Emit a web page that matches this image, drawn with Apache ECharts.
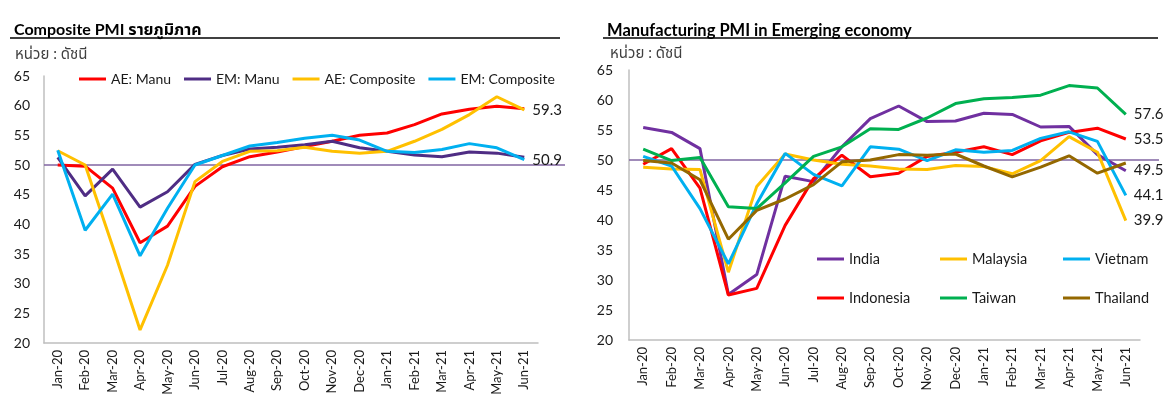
<!DOCTYPE html>
<html>
<head>
<meta charset="utf-8">
<script src="https://cdn.jsdelivr.net/npm/echarts@6/dist/echarts.min.js"></script>
<style>
  html, body { margin: 0; padding: 0; background: #fff; }
  #main { width: 1169px; height: 405px; }
</style>
</head>
<body>
<div id="main"></div>
<script>
// แกน X (ทั้งสองกราฟ)
var months = ['Jan-20','Feb-20','Mar-20','Apr-20','May-20','Jun-20','Jul-20','Aug-20','Sep-20',
              'Oct-20','Nov-20','Dec-20','Jan-21','Feb-21','Mar-21','Apr-21','May-21','Jun-21'];
var yTicks = [20, 65, 5]; // min, max, interval

// Composite PMI รายภูมิภาค
var aeManu = [50.0, 49.8, 46.1, 36.9, 39.7, 46.4, 49.7, 51.4, 52.2, 53.1, 54.0, 55.0, 55.4, 56.8, 58.6, 59.4, 59.9, 59.5];
var emManu = [51.3, 44.8, 49.3, 42.9, 45.5, 50.1, 51.6, 52.7, 53.0, 53.4, 54.0, 52.9, 52.3, 51.7, 51.4, 52.2, 52.0, 51.3];
var aeComp = [52.4, 50.0, 36.3, 22.2, 33.1, 47.2, 50.6, 52.3, 52.4, 53.0, 52.3, 52.0, 52.3, 54.0, 56.0, 58.5, 61.5, 59.3];
var emComp = [52.5, 39.0, 45.1, 34.7, 42.7, 50.0, 51.6, 53.2, 53.8, 54.5, 55.0, 54.2, 52.3, 52.1, 52.6, 53.6, 52.9, 50.9];

// Manufacturing PMI in Emerging economy
var india     = [55.4, 54.6, 51.9, 27.6, 30.9, 47.3, 46.4, 52.2, 56.9, 59.0, 56.4, 56.5, 57.8, 57.6, 55.5, 55.6, 50.9, 48.2];
var indonesia = [49.3, 51.9, 45.3, 27.5, 28.6, 39.1, 46.9, 50.8, 47.2, 47.8, 50.6, 51.3, 52.2, 50.9, 53.2, 54.6, 55.3, 53.5];
var malaysia  = [48.8, 48.5, 48.4, 31.3, 45.6, 51.0, 50.0, 49.3, 49.0, 48.5, 48.4, 49.1, 48.9, 47.7, 49.9, 53.9, 51.3, 39.9];
var vietnam   = [50.6, 49.0, 41.9, 32.7, 42.7, 51.1, 47.6, 45.7, 52.2, 51.8, 49.9, 51.7, 51.3, 51.6, 53.6, 54.7, 53.1, 44.1];
var taiwan    = [51.8, 49.9, 50.4, 42.2, 41.9, 46.2, 50.6, 52.2, 55.2, 55.1, 57.0, 59.4, 60.2, 60.4, 60.8, 62.4, 62.0, 57.6];
var thailand  = [49.9, 49.5, 46.7, 36.8, 41.6, 43.5, 45.9, 49.7, 50.0, 50.9, 50.8, 51.0, 49.0, 47.2, 48.8, 50.7, 47.8, 49.5];

// เส้นระดับ 50
var refX = [0, 1];
var refY = [50, 50];

var FONT = 'Lato, "Noto Sans Thai", "DejaVu Sans", sans-serif';

function fnRefData(){
    var arr = [];
    for(var i=0;i<refX.length;i++){
        arr.push([refX[i], refY[i]]);
    }
    return arr;
}

function fnLine(name, data, color, axisIdx, showEnd, endOffset){
    return {
        name: name,
        type: 'line',
        xAxisIndex: axisIdx,
        yAxisIndex: axisIdx,
        data: data,
        symbol: 'none',
        z: 3,
        lineStyle: { color: color, width: 3 },
        itemStyle: { color: color },
        endLabel: {
            show: showEnd,
            distance: 8,
            offset: endOffset || [0, 0],
            fontSize: 15,
            fontFamily: FONT,
            color: '#1a1a1a',
            formatter: function(p){ return p.value.toFixed(1); }
        }
    };
}

function fnCatAxis(gridIdx){
    return {
        type: 'category',
        gridIndex: gridIdx,
        data: months,
        boundaryGap: true,
        axisLine: { lineStyle: { color: '#bfbfbf', width: 1.5 } },
        axisTick: { show: false },
        axisLabel: { rotate: 90, fontSize: 13, color: '#1a1a1a', fontFamily: FONT, margin: 7, interval: 0 },
        splitLine: { show: false }
    };
}

function fnValAxis(gridIdx, margin){
    return {
        type: 'value',
        gridIndex: gridIdx,
        min: yTicks[0],
        max: yTicks[1],
        interval: yTicks[2],
        axisLine: { show: true, lineStyle: { color: '#bfbfbf', width: 1.5 } },
        axisTick: { show: false },
        splitLine: { show: false },
        axisLabel: { fontSize: 14, color: '#1a1a1a', fontFamily: FONT, margin: margin }
    };
}

function fnHideAxis(gridIdx, isX){
    var ax = { type: 'value', gridIndex: gridIdx, show: false, splitLine: { show: false } };
    if(isX){ ax.min = 0; ax.max = 1; } else { ax.min = yTicks[0]; ax.max = yTicks[1]; }
    return ax;
}

function fnRefLine(axisIdx){
    return {
        type: 'line',
        xAxisIndex: axisIdx,
        yAxisIndex: axisIdx,
        data: fnRefData(),
        symbol: 'none',
        silent: true,
        z: 1,
        lineStyle: { color: '#8064a2', width: 1.5 }
    };
}

function fnLegend(left, top, names, orient, size){
    return {
        left: left,
        top: top,
        orient: orient,
        data: names,
        icon: 'rect',
        itemWidth: 27,
        itemHeight: 3,
        itemGap: orient == 'vertical' ? 23 : 13,
        textStyle: { fontSize: size, color: '#1a1a1a', fontFamily: FONT, lineHeight: 16 }
    };
}

var myChart = echarts.init(document.getElementById('main'));

var option = {
    animation: false,
    backgroundColor: '#fff',
    title: [
        { text: 'Composite PMI รายภูมิภาค', left: 9, top: 17,
          textStyle: { fontSize: 16, fontWeight: 'bold', color: '#000', fontFamily: FONT } },
        { text: 'หน่วย : ดัชนี', left: 10, top: 42,
          textStyle: { fontSize: 15, fontWeight: 'normal', color: '#404040', fontFamily: FONT } },
        { text: 'Manufacturing PMI in Emerging economy', left: 602, top: 17,
          textStyle: { fontSize: 16.5, fontWeight: 'bold', color: '#000', fontFamily: FONT } },
        { text: 'หน่วย : ดัชนี', left: 605, top: 41,
          textStyle: { fontSize: 15, fontWeight: 'normal', color: '#404040', fontFamily: FONT } }
    ],
    graphic: [
        { type: 'line', shape: { x1: 10, y1: 38, x2: 560, y2: 38 }, style: { stroke: '#000', lineWidth: 1.5 } },
        { type: 'line', shape: { x1: 603, y1: 38, x2: 1158, y2: 38 }, style: { stroke: '#000', lineWidth: 1.5 } }
    ],
    legend: [
        fnLegend(74, 66, ['AE: Manu', 'EM: Manu', 'AE: Composite', 'EM: Composite'], 'horizontal', 14),
        fnLegend(812, 246, ['India', 'Indonesia'], 'vertical', 14.5),
        fnLegend(935, 246, ['Malaysia', 'Taiwan'], 'vertical', 14.5),
        fnLegend(1058, 246, ['Vietnam', 'Thailand'], 'vertical', 14.5)
    ],
    grid: [
        { left: 44, top: 76, width: 494, height: 267 },
        { left: 629, top: 70, width: 511, height: 270 },
        { left: 44, top: 76, width: 521, height: 267 },
        { left: 629, top: 70, width: 530, height: 270 }
    ],
    xAxis: [fnCatAxis(0), fnCatAxis(1), fnHideAxis(2, true), fnHideAxis(3, true)],
    yAxis: [fnValAxis(0, 14), fnValAxis(1, 16), fnHideAxis(2, false), fnHideAxis(3, false)],
    series: [
        fnRefLine(2),
        fnRefLine(3),
        fnLine('AE: Manu', aeManu, '#ff0000', 0, false),
        fnLine('EM: Manu', emManu, '#4f2d84', 0, false),
        fnLine('AE: Composite', aeComp, '#ffc000', 0, true),
        fnLine('EM: Composite', emComp, '#00b0f0', 0, true),
        fnLine('India', india, '#7030a0', 1, false),
        fnLine('Indonesia', indonesia, '#ff0000', 1, true),
        fnLine('Malaysia', malaysia, '#ffc000', 1, true),
        fnLine('Vietnam', vietnam, '#00b0f0', 1, true),
        fnLine('Taiwan', taiwan, '#00b050', 1, true),
        fnLine('Thailand', thailand, '#946800', 1, true, [0, 7])
    ]
};
myChart.setOption(option);
</script>
</body>
</html>
